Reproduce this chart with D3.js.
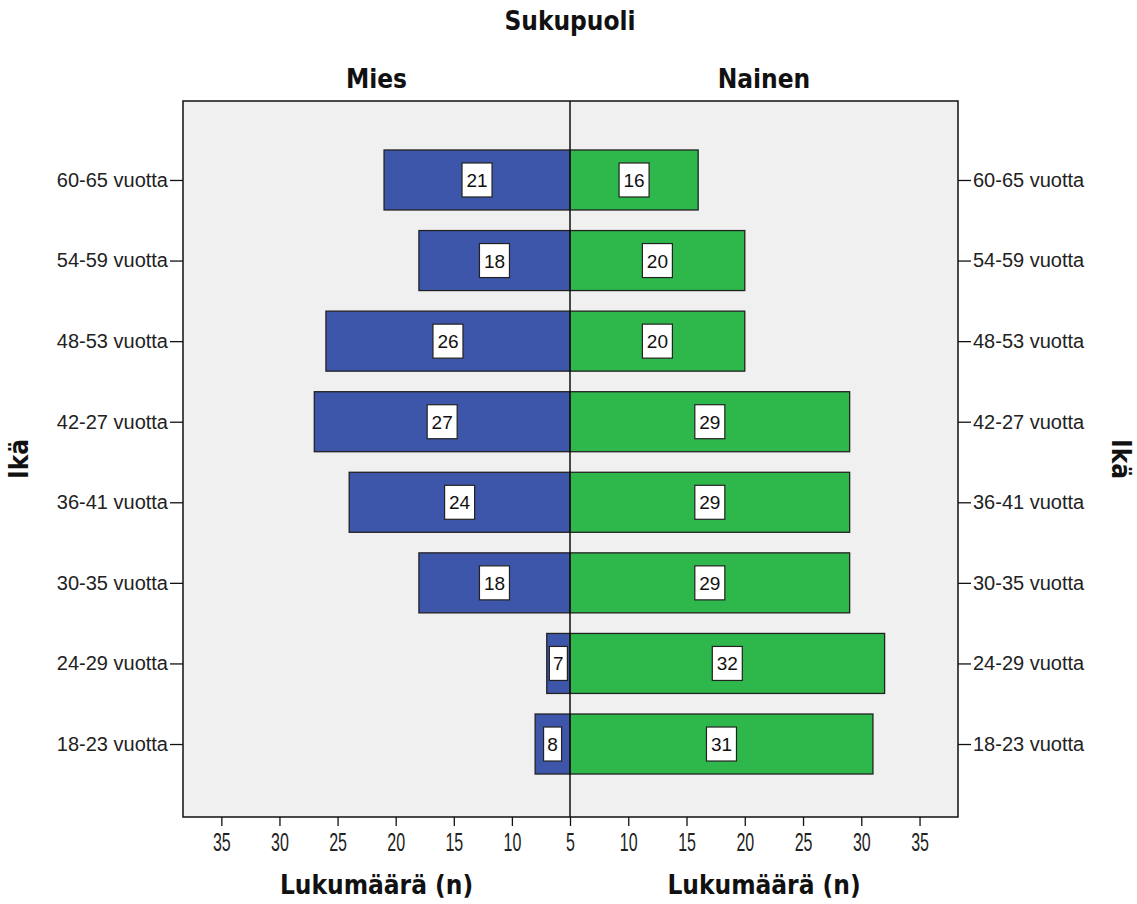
<!DOCTYPE html>
<html><head><meta charset="utf-8">
<script src="https://cdn.jsdelivr.net/npm/d3@7"></script>
<style>body{margin:0;background:#fff}</style>
</head><body>
<svg id="c" width="1137" height="904"></svg>
<script>
const categories = ["60-65 vuotta","54-59 vuotta","48-53 vuotta","42-27 vuotta","36-41 vuotta","30-35 vuotta","24-29 vuotta","18-23 vuotta"];
const miesValues = [21,18,26,27,24,18,7,8];
const nainenValues = [16,20,20,29,29,29,32,31];
const leftTicks = [35,30,25,20,15,10,5];
const rightTicks = [10,15,20,25,30,35];
const title = "Sukupuoli", groupLabels = ["Mies","Nainen"], xTitle = "Lukumäärä (n)", yTitle = "Ikä";

const svg = d3.select("#c");
const L = 183, R = 958, T = 101, B = 817, C = 570;
const bold = "'DejaVu Sans Condensed','DejaVu Sans',sans-serif";
const reg = "'Liberation Sans',Arial,sans-serif";

const xR = d3.scaleLinear().domain([5, 38.3]).range([C, R]);
const xL = d3.scaleLinear().domain([5, 38.3]).range([C, L]);
const y = d3.scalePoint().domain(categories).range([104, 820]).padding(0.943);
const bh = 60;

svg.append("rect").attr("x",L).attr("y",T).attr("width",R-L).attr("height",B-T).attr("fill","#f0f0f0");

const g = svg.append("g");
function bars(vals, sc, color){
  g.selectAll(null).data(categories).enter().append("rect")
    .attr("x",(d,i)=>Math.min(sc(vals[i]),C)).attr("y",d=>y(d)-bh/2)
    .attr("width",(d,i)=>Math.abs(sc(vals[i])-C)).attr("height",bh)
    .attr("fill",color).attr("stroke","#222").attr("stroke-width",1.3);
}
bars(miesValues, xL, "#3d56a9");
bars(nainenValues, xR, "#2eb84b");

function labels(vals, sc){
  categories.forEach((c,i)=>{
    const cx = (sc(vals[i])+C)/2, cy = y(c);
    const txt = String(vals[i]);
    const w = txt.length>1 ? 30 : 18;
    g.append("rect").attr("x",cx-w/2).attr("y",cy-17).attr("width",w).attr("height",34)
      .attr("fill","#fff").attr("stroke","#222").attr("stroke-width",1.2);
    g.append("text").attr("x",cx).attr("y",cy+7).attr("text-anchor","middle")
      .attr("font-family",reg).attr("font-size",19).attr("fill","#111").text(txt);
  });
}
labels(miesValues, xL);
labels(nainenValues, xR);

// center line
svg.append("line").attr("x1",C).attr("x2",C).attr("y1",T).attr("y2",B).attr("stroke","#111").attr("stroke-width",1.5);
// frame
svg.append("rect").attr("x",L).attr("y",T).attr("width",R-L).attr("height",B-T).attr("fill","none").attr("stroke","#111").attr("stroke-width",1.5);

// y axes
const yl = svg.append("g").attr("transform",`translate(${L},0)`).call(d3.axisLeft(y).tickSize(13).tickPadding(2));
const yr = svg.append("g").attr("transform",`translate(${R},0)`).call(d3.axisRight(y).tickSize(13).tickPadding(2));
[yl,yr].forEach(a=>{a.select(".domain").remove();a.selectAll("line").attr("stroke","#111").attr("stroke-width",1.3);
  a.selectAll("text").attr("font-family",reg).attr("font-size",20).attr("fill","#222");});

// x axes
const xlA = svg.append("g").attr("transform",`translate(0,${B})`).call(d3.axisBottom(xL).tickValues(leftTicks).tickSize(9).tickPadding(7));
const xrA = svg.append("g").attr("transform",`translate(0,${B})`).call(d3.axisBottom(xR).tickValues(rightTicks).tickSize(9).tickPadding(7));
[xlA,xrA].forEach(a=>{a.select(".domain").remove();a.selectAll("line").attr("stroke","#111").attr("stroke-width",1.3);
  a.selectAll("text").attr("font-family",reg).attr("font-size",25).attr("fill","#222").attr("transform","scale(0.64,1)");});

// titles
function t(x,y,s,rot){
  const e = svg.append("text").attr("text-anchor","middle").attr("font-family",bold).attr("font-weight","bold")
    .attr("font-size",26).attr("fill","#111").text(s);
  if(rot) e.attr("transform",`translate(${x},${y}) rotate(${rot})`); else e.attr("x",x).attr("y",y);
}
t(C,30,title);
t((L+C)/2,88,groupLabels[0]);
t((C+R)/2,88,groupLabels[1]);
t((L+C)/2,894,xTitle);
t((C+R)/2,894,xTitle);
t(28,(T+B)/2,yTitle,-90);
t(1112,(T+B)/2,yTitle,90);
</script>
</body></html>
